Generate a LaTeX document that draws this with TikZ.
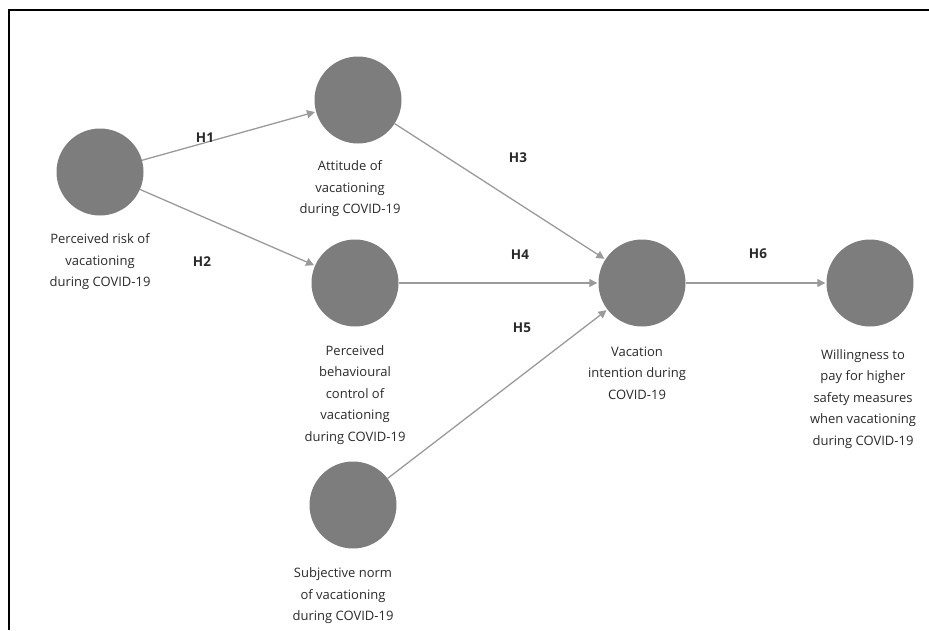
\documentclass[tikz,border=0pt]{standalone}
\usepackage{fontspec}
\setmainfont{Open Sans}
\usetikzlibrary{arrows.meta}
\definecolor{circgray}{HTML}{7D7D7D}
\definecolor{linegray}{HTML}{9A9A9A}
\definecolor{txtgray}{HTML}{2A2A2A}

\begin{document}
\begin{tikzpicture}[x=1pt,y=-1pt,
	construct/.style={circle,fill=circgray,minimum size=87pt,inner sep=0pt},
	caption/.style={align=center,text=txtgray,font=\fontsize{13}{21.5}\selectfont},
	hyp/.style={font=\fontsize{13.5}{15}\selectfont\bfseries,text=txtgray},
	path/.style={draw=linegray,line width=1.3pt,-{Triangle[length=8pt,width=8pt]},shorten >=1pt}]
	\useasboundingbox (0,0) rectangle (929,630);
	% frame
	\draw[line width=1.6pt] (929,10) -- (9,10) -- (9,630);
	% constructs
	\node[construct] (pr) at (100,172) {};
	\node[construct] (att) at (358,100) {};
	\node[construct] (pbc) at (355,283) {};
	\node[construct] (sn) at (353,505) {};
	\node[construct] (vi) at (642,283) {};
	\node[construct] (wtp) at (870,283) {};
	% captions
	\node[caption] (prtxt) at (100,262) {Perceived risk of\\vacationing\\during COVID-19};
	\node[caption] (atttxt) at (350,189) {Attitude of\\vacationing\\during COVID-19};
	\node[caption] (pbctxt) at (355,395) {Perceived\\behavioural\\control of\\vacationing\\during COVID-19};
	\node[caption] (sntxt) at (343,596) {Subjective norm\\of vacationing\\during COVID-19};
	\node[caption] (vitxt) at (637,373) {Vacation\\intention during\\COVID-19};
	\node[caption] (wtptxt) at (863,399) {Willingness to\\pay for higher\\safety measures\\when vacationing\\during COVID-19};
	% paths
	\draw[path] (pr) -- (att);
	\draw[path] (pr) -- (pbc);
	\draw[path] (att) -- (vi);
	\draw[path] (pbc) -- (vi);
	\draw[path] (sn) -- (vi);
	\draw[path] (vi) -- (wtp);
	% hypotheses
	\node[hyp] (h1) at (205,138) {H1};
	\node[hyp] (h2) at (202,262) {H2};
	\node[hyp] (h3) at (518,158) {H3};
	\node[hyp] (h4) at (520,255) {H4};
	\node[hyp] (h5) at (522,328) {H5};
	\node[hyp] (h6) at (758,254) {H6};
\end{tikzpicture}
\end{document}
